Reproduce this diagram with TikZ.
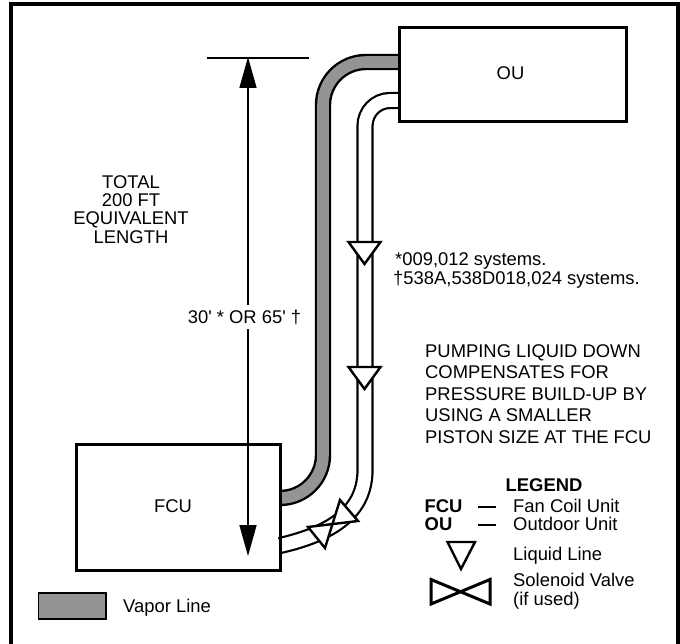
\documentclass[tikz,border=0pt]{standalone}
\usepackage{fontspec}
\setmainfont{Liberation Sans}
\usetikzlibrary{arrows.meta}
\tikzset{
  box/.style={draw,line width=3pt,inner sep=0pt,outer sep=0pt},
  oubox/.style={box,anchor=north west,minimum width=227pt,minimum height=94pt},
  fcubox/.style={box,anchor=north west,minimum width=203.5pt,minimum height=126.5pt},
  txt/.style={inner sep=0pt,font=\fontsize{18.4}{18.4}\selectfont},
  vapor/.style={line width=2.4pt,double=black!42,double distance=11.6pt},
  liquid/.style={line width=2.2pt,double=white,double distance=12.8pt},
  tri/.style={draw,line width=2.4pt,fill=white,line join=miter},
  dim/.style={line width=1.6pt}
}
\begin{document}
\begin{tikzpicture}[x=1pt,y=-1pt]
\useasboundingbox (0,0) rectangle (680,644);
\draw[line width=4pt] (11,644) -- (11,4) -- (678,4) -- (678,644);
% boxes
\node[oubox] (OU) at (399,28) {};
\node[fcubox] (FCU) at (76.5,444) {};
\node[txt] (ouT) at (510.5,73) {OU};
\node[txt] (fcuT) at (173,506) {FCU};
% pipes
\coordinate (vapA) at (OU.west |- 0,62);
\coordinate (vapB) at (FCU.east |- 0,498);
\coordinate (liqA) at (OU.west |- 0,100.5);
\coordinate (liqB) at (FCU.east |- 0,545.5);
\draw[vapor,rounded corners=43pt] (vapA) -- (323,62) -- (323,498) -- (vapB);
\draw[liquid] (liqA) -- (390,100.5) .. controls (376,100.5) and (365,112) .. (365,126) -- (365,470) .. controls (365,510) and (335,533) .. (liqB);
\node[oubox] at (399,28) {};
\node[fcubox] at (76.5,444) {};
% inline symbols
\draw[tri] (348.5,242) -- (380.5,242) -- (364.5,264) -- cycle;
\draw[tri] (348.5,367) -- (380.5,367) -- (364.5,389) -- cycle;
\draw[tri] (340,500) -- (358,521) -- (308,527) -- (325,548) -- cycle;
% dimension
\coordinate (dimTop) at (248,57);
\coordinate (dimBot) at (248,556);
\draw[dim] (207,58) -- (309,58);
\draw[dim,{Triangle[length=31pt,width=17pt]}-{Triangle[length=31pt,width=17pt]}] (dimTop) -- (dimBot);
\node[txt,fill=white,inner xsep=1pt,inner ysep=5pt] (dimT) at (244.5,317) {30\textquotesingle{} * OR 65\textquotesingle{} †};
\node[txt,align=center,font=\fontsize{18.4}{18.3}\selectfont] (total) at (131,209.5) {TOTAL\\200 FT\\EQUIVALENT\\LENGTH};
\node[txt,align=left,anchor=west,font=\fontsize{18.4}{19}\selectfont] (sys) at (393,270.5) {\hspace{2pt}*009,012 systems.\\†538A,538D018,024 systems.};
\node[txt,align=left,anchor=west,font=\fontsize{18.4}{21.5}\selectfont] (pump) at (425,394) {PUMPING LIQUID DOWN\\COMPENSATES FOR\\PRESSURE BUILD-UP BY\\USING A SMALLER\\PISTON SIZE AT THE FCU};
% legend
\node[txt,font=\fontsize{18.4}{18.4}\selectfont\bfseries] (leg) at (544,485) {LEGEND};
\node[txt,font=\fontsize{18.4}{18.4}\selectfont\bfseries,anchor=west] (fcuK) at (424.5,506) {FCU};
\node[txt,font=\fontsize{18.4}{18.4}\selectfont\bfseries,anchor=west] (ouK) at (424.5,524) {OU};
\coordinate (d1a) at (478,507); \coordinate (d1b) at (496,507);
\coordinate (d2a) at (478,525); \coordinate (d2b) at (496,525);
\draw[line width=1.4pt] (d1a) -- (d1b);
\draw[line width=1.4pt] (d2a) -- (d2b);
\node[txt,anchor=west] (fcuV) at (513,506) {Fan Coil Unit};
\node[txt,anchor=west] (ouV) at (513,524) {Outdoor Unit};
\draw[tri] (447.5,542) -- (475,542) -- (461,569) -- cycle;
\draw[tri,line width=3pt] (431,579.5) -- (490,604) -- (490,579.5) -- (431,604) -- cycle;
\node[txt,anchor=west] (liqT) at (513,556) {Liquid Line};
\node[txt,align=left,anchor=west,font=\fontsize{18.4}{19}\selectfont] (solT) at (513,591.5) {Solenoid Valve\\(if used)};
\draw[line width=1.6pt,fill=black!42] (38.5,593) rectangle (106,619);
\node[txt,anchor=west] (vapT) at (123,608) {Vapor Line};
\end{tikzpicture}
\end{document}
